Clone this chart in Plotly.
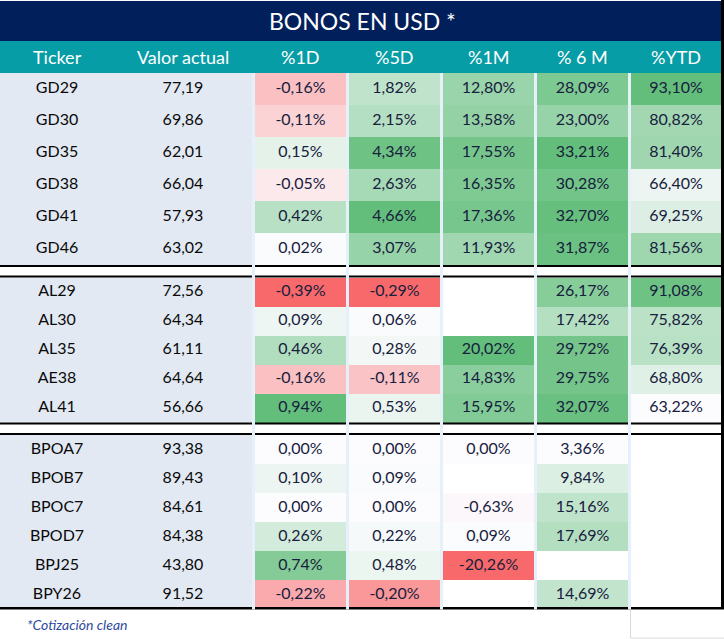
import plotly.graph_objects as go

# ---------------- data ----------------
title = "BONOS EN USD *"
headers = ["Ticker", "Valor actual", "%1D", "%5D", "%1M", "% 6 M", "%YTD"]
footnote = "*Cotización clean"

group_sizes = [6, 5, 6]
tickers = ["GD29", "GD30", "GD35", "GD38", "GD41", "GD46",
           "AL29", "AL30", "AL35", "AE38", "AL41",
           "BPOA7", "BPOB7", "BPOC7", "BPOD7", "BPJ25", "BPY26"]
valor = [77.19, 69.86, 62.01, 66.04, 57.93, 63.02,
         72.56, 64.34, 61.11, 64.64, 56.66,
         93.38, 89.43, 84.61, 84.38, 43.80, 91.52]
pct_1d = [-0.16, -0.11, 0.15, -0.05, 0.42, 0.02,
          -0.39, 0.09, 0.46, -0.16, 0.94,
          0.00, 0.10, 0.00, 0.26, 0.74, -0.22]
pct_5d = [1.82, 2.15, 4.34, 2.63, 4.66, 3.07,
          -0.29, 0.06, 0.28, -0.11, 0.53,
          0.00, 0.09, 0.00, 0.22, 0.48, -0.20]
pct_1m = [12.80, 13.58, 17.55, 16.35, 17.36, 11.93,
          None, None, 20.02, 14.83, 15.95,
          0.00, None, -0.63, 0.09, -20.26, None]
pct_6m = [28.09, 23.00, 33.21, 30.28, 32.70, 31.87,
          26.17, 17.42, 29.72, 29.75, 32.07,
          3.36, 9.84, 15.16, 17.69, None, 14.69]
pct_ytd = [93.10, 80.82, 81.40, 66.40, 69.25, 81.56,
           91.08, 75.82, 76.39, 68.80, 63.22,
           None, None, None, None, None, None]

pct_cols = [pct_1d, pct_5d, pct_1m, pct_6m, pct_ytd]

# ---------------- layout constants ----------------
W, H = 724, 639
NAVY = "#011F5B"
TEAL = "#079DA6"
LABEL_BG = "#E2E9F3"
GAP = "#E5F0FB"
PCT_TXT = "#17203D"
FONT = "Lato"

TITLE_Y = (1, 41)
HEAD_Y = (41, 73)
ROW_H = [32, 29, 29]
SEP_H = 12.5
RIGHT = 721

label_x = [57, 183]
col_edges = [(255, 346), (349, 440), (443, 534), (537, 628), (631, 721)]
gaps = [(252, 255), (346, 349), (440, 443), (534, 537), (628, 631)]

# rows
row_top, row_bot, seps = [], [], []
y = HEAD_Y[1]
group_spans = []
for gi, n in enumerate(group_sizes):
    g0 = y
    for _ in range(n):
        row_top.append(y)
        y += ROW_H[gi]
        row_bot.append(y)
    group_spans.append((g0, y))
    if gi < len(group_sizes) - 1:
        seps.append((y, y + SEP_H))
        y += SEP_H
TABLE_BOTTOM = y
row_mid = [(a + b) / 2 for a, b in zip(row_top, row_bot)]


def norm(col):
    vals = [v for v in col if v is not None]
    lo, hi = min(vals), max(vals)
    out = []
    for v in col:
        if v is None:
            out.append(None)
        elif lo < 0:
            out.append(v / abs(lo) if v < 0 else v / hi)
        else:
            out.append((v - lo) / (hi - lo))
    return out


normed = [norm(c) for c in pct_cols]

# heatmap grid (including separator bands as empty rows)
y_edges = [HEAD_Y[1]]
z = []
ri = 0
for gi, n in enumerate(group_sizes):
    for _ in range(n):
        z.append([normed[c][ri] for c in range(5)])
        y_edges.append(row_bot[ri])
        ri += 1
    if gi < len(group_sizes) - 1:
        z.append([None] * 5)
        y_edges.append(seps[gi][1])
x_edges = [253.5, 347.5, 441.5, 535.5, 629.5, RIGHT]

fig = go.Figure()

fig.add_trace(go.Heatmap(
    x=x_edges, y=y_edges, z=z, zmin=-1, zmax=1,
    colorscale=[[0, "#F8696B"], [0.5, "#FCFCFF"], [1, "#63BE7B"]],
    showscale=False, hoverinfo="skip",
))

def fmt(v, pct=False):
    if v is None:
        return ""
    s = f"{v:.2f}".replace(".", ",")
    return s + "%" if pct else s

CELL_SIZE = 16
fig.add_trace(go.Scatter(
    x=[label_x[0]] * len(tickers), y=row_mid, text=tickers, mode="text",
    textfont=dict(family=FONT, size=CELL_SIZE, color="#0A0A0A"), hoverinfo="skip"))
fig.add_trace(go.Scatter(
    x=[label_x[1]] * len(valor), y=row_mid, text=[fmt(v) for v in valor], mode="text",
    textfont=dict(family=FONT, size=CELL_SIZE, color="#0A0A0A"), hoverinfo="skip"))
for (x0, x1), col in zip(col_edges, pct_cols):
    fig.add_trace(go.Scatter(
        x=[(x0 + x1) / 2] * len(col), y=row_mid, text=[fmt(v, True) for v in col],
        mode="text", textfont=dict(family=FONT, size=CELL_SIZE, color=PCT_TXT),
        hoverinfo="skip"))

shapes = []
def rect(x0, x1, y0, y1, color, layer="below"):
    shapes.append(dict(type="rect", xref="x", yref="y", x0=x0, x1=x1, y0=y0, y1=y1,
                       fillcolor=color, line=dict(width=0), layer=layer))

rect(0, RIGHT, TITLE_Y[0], TITLE_Y[1], NAVY)
rect(0, RIGHT, HEAD_Y[0], HEAD_Y[1], TEAL)
for g0, g1 in group_spans:
    rect(0, 252, g0, g1, LABEL_BG)
for s0, s1 in seps:
    rect(0, RIGHT, s0, s0 + 2, "#000000", "above")
    rect(0, RIGHT, s1 - 2, s1, "#000000", "above")
rect(0, RIGHT, TABLE_BOTTOM - 2, TABLE_BOTTOM + 0.5, "#000000", "above")
for g0, g1 in gaps:
    rect(g0, g1, HEAD_Y[1], TABLE_BOTTOM + 0.5, GAP, "above")
rect(RIGHT, W, 0, TABLE_BOTTOM + 0.5, "#000000", "above")
shapes.append(dict(type="line", xref="x", yref="y", x0=630.5, x1=630.5,
                   y0=TABLE_BOTTOM + 0.5, y1=638, line=dict(color="#DADADA", width=1)))
shapes.append(dict(type="line", xref="x", yref="y", x0=630.5, x1=W,
                   y0=638, y1=638, line=dict(color="#DADADA", width=1)))

annotations = [dict(x=362, y=sum(TITLE_Y) / 2, xref="x", yref="y", text=title,
                    showarrow=False, font=dict(family=FONT, size=23, color="white"))]
head_x = label_x + [(a + b) / 2 for a, b in col_edges]
for hx, ht in zip(head_x, headers):
    annotations.append(dict(x=hx, y=sum(HEAD_Y) / 2, xref="x", yref="y", text=ht,
                            showarrow=False, font=dict(family=FONT, size=18, color="white")))
annotations.append(dict(x=25, y=624, xref="x", yref="y", text="<i>" + footnote + "</i>",
                        xanchor="left", showarrow=False,
                        font=dict(family=FONT, size=14, color="#2F4AA0")))

fig.update_layout(
    width=W, height=H, autosize=False,
    margin=dict(l=0, r=0, t=0, b=0, pad=0),
    paper_bgcolor="white", plot_bgcolor="white",
    xaxis=dict(range=[0, W], visible=False, fixedrange=True),
    yaxis=dict(range=[H, 0], visible=False, fixedrange=True),
    shapes=shapes, annotations=annotations, showlegend=False,
)

fig.write_html("out.html", config={"displayModeBar": False, "staticPlot": True},
               post_script="document.body.style.margin='0';")
